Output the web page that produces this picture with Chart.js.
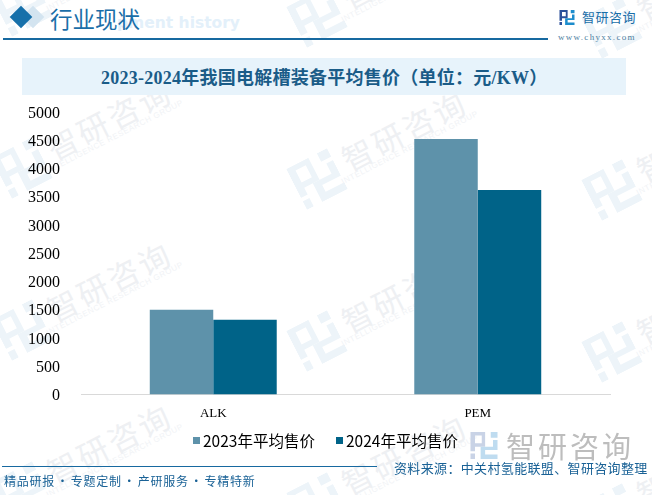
<!DOCTYPE html>
<html>
<head>
<meta charset="utf-8">
<style>
html,body{margin:0;padding:0;background:#fff;}
#page{position:relative;width:652px;height:495px;overflow:hidden;background:#fff;font-family:"Noto Sans CJK SC",sans-serif;}
#page div,#page svg{position:absolute;white-space:nowrap;}
canvas{position:absolute;left:0;top:0;}
.wm{color:#eef0f3;font-size:31px;letter-spacing:3px;line-height:36px;transform:translate(-50%,-50%) rotate(-27deg);}
.wmsub{color:#f1f3f6;font-size:8px;letter-spacing:.6px;line-height:10px;font-family:"Liberation Sans";transform:translate(-50%,-50%) rotate(-27deg);}
.wmlogo{width:46px;height:46px;transform:translate(-50%,-50%) rotate(-27deg);}
.leg{font-size:15.5px;line-height:22px;color:#000;}
</style>
</head>
<body>
<div id="page">
  <svg width="0" height="0" style="left:0;top:0;">
    <symbol id="logoLeft" viewBox="0 0 24 24"><path fill-rule="evenodd" d="M0 0H13V13H4V17H0Z M4 3V10H10V3Z M0 19H4V24H0Z"/></symbol>
    <symbol id="logoRight" viewBox="0 0 24 24"><path d="M18 0H24V5H18Z M24 7V16H13V20H24V24H9V13H20V7Z"/></symbol>
  </svg>
  <div id="marks"></div>
  <div style="left:22px;top:58px;width:604px;height:37px;background:#e7f3fb;"></div>
  <div style="left:3px;top:38px;width:545px;height:2px;background:#1769a0;"></div>
  <div style="left:23px;top:7px;width:20px;height:20px;background:#d3e4f0;transform:rotate(45deg) scale(.8);"></div>
  <div style="left:11px;top:7px;width:20px;height:20px;background:#1670aa;transform:rotate(45deg) scale(.8);"></div>
  <div style="left:117px;top:13px;font-size:15.5px;line-height:20px;font-weight:bold;color:#e3f0fa;font-family:'DejaVu Sans';">pment history</div>
  <div style="left:50px;top:0;font-size:22.5px;line-height:36px;color:#1a6ea8;">行业现状</div>
  <div style="left:101px;top:66px;font-size:18px;line-height:24px;letter-spacing:.25px;font-weight:bold;color:#1a5c88;font-family:'Liberation Serif','Noto Sans CJK SC';">2023-2024年我国电解槽装备平均售价（单位：元/KW）</div>
  <svg width="16" height="15" style="left:559px;top:10px;fill:#2a4f9a;"><use href="#logoLeft"/></svg>
  <svg width="16" height="15" style="left:559px;top:10px;fill:#1c8ccc;"><use href="#logoRight"/></svg>
  <div style="left:582px;top:6px;font-size:13px;line-height:22px;letter-spacing:.5px;color:#1a6ea8;">智研咨询</div>
  <div style="left:558px;top:30px;font-size:9px;line-height:14px;color:#4f7f9f;font-family:'Liberation Serif';letter-spacing:1.3px;">www.chyxx.com</div>
  <canvas id="chart" width="652" height="495"></canvas>
  <div id="legend"></div>
  <div style="left:2px;top:466px;width:375px;height:1px;background:#1769a0;"></div>
  <div style="left:4px;top:472px;font-size:12px;line-height:18px;letter-spacing:.75px;word-spacing:-1.9px;color:#1a6296;">精品研报 · 专题定制 · 产研服务 · 专精特新</div>
  <div style="left:394px;top:459px;font-size:13px;line-height:18px;letter-spacing:.35px;color:#1a6296;">资料来源：中关村氢能联盟、智研咨询整理</div>
  <svg width="28" height="27" style="left:470px;top:432px;fill:#c9d3e6;"><use href="#logoLeft"/></svg>
  <svg width="28" height="27" style="left:470px;top:432px;fill:#bfdcf0;"><use href="#logoRight"/></svg>
  <div style="left:506px;top:427px;font-size:29px;line-height:36px;letter-spacing:3px;color:#bdbdbd;">智研咨询</div>
</div>
<script src="https://cdn.jsdelivr.net/npm/chart.js@4/dist/chart.umd.min.js"></script>
<script>
let categories=["ALK","PEM"];
let seriesNames=["2023年平均售价","2024年平均售价"];
let sales2023=[1500,4520];
let sales2024=[1320,3620];
let tickLabels=[0,500,1000,1500,2000,2500,3000,3500,4000,4500,5000];
let seriesColors=["#5e92aa","#006388"];

// faint background watermarks, staggered grid
let marks=document.getElementById("marks");
function addMark(cls,x,y,html){
  let d=document.createElement("div");
  d.className=cls;
  d.style.left=x+"px";
  d.style.top=y+"px";
  d.innerHTML=html;
  marks.appendChild(d);
}
for(let i=0;i<3;i++){
  for(let j=-1;j<3;j++){
    let x=22+295*i;
    let y=168+11*i+162*j;
    addMark("wmlogo",x,y,'<svg width="46" height="46" style="fill:#edf4f9;"><use href="#logoLeft"/><use href="#logoRight"/></svg>');
    addMark("wm",x+87,y-49,"智研咨询");
    addMark("wmsub",x+93,y-31,"INTELLIGENCE RESEARCH GROUP");
  }
}

// legend positions follow the reference, so it is built by hand
let legend=document.getElementById("legend");
let legendX=[193,336];
seriesNames.forEach(function(name,i){
  legend.innerHTML+='<div style="left:'+legendX[i]+'px;top:437px;width:7px;height:7px;background:'+seriesColors[i]+';"></div>'
    +'<div class="leg" style="left:'+(legendX[i]+10)+'px;top:429px;">'+name+'</div>';
});

new Chart(document.getElementById("chart"),{
  type:"bar",
  data:{
    labels:categories,
    datasets:[
      {label:seriesNames[0],data:sales2023,backgroundColor:seriesColors[0]},
      {label:seriesNames[1],data:sales2024,backgroundColor:seriesColors[1]}
    ]
  },
  options:{
    responsive:false,
    animation:false,
    layout:{padding:{left:0,right:42,top:112,bottom:71}},
    datasets:{bar:{categoryPercentage:0.48,barPercentage:1}},
    scales:{
      x:{
        grid:{display:false},
        border:{color:"#d9d9d9"},
        ticks:{color:"#000",font:{family:"'Liberation Serif'",size:13},padding:3}
      },
      y:{
        min:0,max:5000,
        afterBuildTicks:function(s){s.ticks=tickLabels.map(function(v){return {value:v};});},
        afterFit:function(s){s.width=81;},
        grid:{display:false},
        border:{display:false},
        ticks:{color:"#000",font:{family:"'Liberation Serif'",size:16},padding:13,labelOffset:1.5,
          callback:function(v){return String(v);}}
      }
    },
    plugins:{
      tooltip:{enabled:false},
      legend:{display:false}
    }
  }
});
</script>
</body>
</html>
